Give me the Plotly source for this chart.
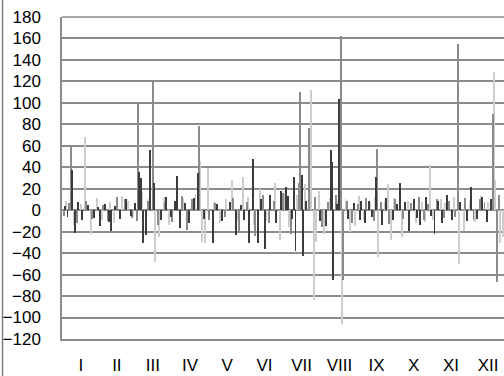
import plotly.graph_objects as go

# Month tick labels (Roman numerals) and month lengths
month_labels = ["I", "II", "III", "IV", "V", "VI", "VII", "VIII", "IX", "X", "XI", "XII"]
month_days = [31, 28, 31, 30, 31, 30, 31, 31, 30, 31, 30, 31]

# Dark grey series: day of year and value
dark_days = [3, 5, 9, 11, 14, 17, 22, 27, 30, 32,
             36, 39, 41, 44, 48, 53, 57, 60, 64, 65,
             67, 69, 73, 76, 82, 86, 90, 93, 95, 97,
             101, 105, 109, 112, 117, 124, 128, 132, 138, 143,
             147, 150, 154, 157, 161, 164, 167, 171, 176, 180,
             184, 186, 189, 191, 192, 197, 198, 201, 212, 217,
             221, 222, 223, 226, 228, 235, 240, 245, 246, 249,
             252, 255, 258, 263, 266, 272, 275, 278, 282, 285,
             289, 292, 294, 299, 303, 306, 309, 312, 316, 320,
             327, 333, 336, 341, 345, 349, 352]
dark_vals = [4, -6, 37, -21, 8, -9, 5, -7, 3, -15,
             6, -11, -19, 4, -8, 10, -5, 7, 36, 30,
             -31, -23, 56, 25, -9, 12, -6, 9, 32, -17,
             7, -12, 11, 35, -8, -31, 6, -10, 8, -23,
             5, -9, -31, 48, -31, 10, -36, 14, -12, 18,
             22, 13, -8, 31, -38, 33, -43, 9, -10, -15,
             56, 45, -65, 6, 104, -8, 7, -9, 9, -12,
             9, -6, 31, -14, 11, -9, 6, 25, 8, -19,
             10, -7, -14, 12, -5, -22, 9, -12, 14, -9,
             8, -10, 22, -8, 12, -11, 10]

# Medium grey series
mid_days = [2, 6, 8, 13, 20, 25, 34, 38, 46, 52,
            58, 62, 63, 71, 75, 79, 85, 91, 99, 103,
            107, 113, 121, 126, 134, 141, 146, 152, 159, 165,
            170, 174, 182, 188, 195, 196, 203, 208, 214, 219,
            225, 229, 231, 234, 238, 243, 250, 256, 259, 262,
            269, 274, 280, 287, 293, 297, 301, 308, 314, 318,
            323, 325, 331, 338, 343, 347, 354, 357, 359]
mid_vals = [-5, 7, 61, -12, 9, -8, 5, -10, 12, 10,
            -7, -10, 101, 9, 121, -14, 8, -11, 13, -18,
            10, 78, -9, 7, -6, 11, -20, 8, -24, 14,
            -12, 9, 16, -22, 25, 110, 77, 12, -16, 8,
            14, 162, -65, 9, -12, 6, 11, -10, 57, 8,
            -13, 10, -8, 7, 12, -9, 6, 10, -7, 9,
            -6, 155, 11, -9, 10, 8, 90, -67, 14]

# Light grey series
light_days = [4, 10, 16, 19, 24, 29, 33, 40, 43, 50,
              55, 59, 66, 72, 77, 80, 84, 88, 94, 100,
              104, 110, 114, 115, 118, 120, 125, 130, 135, 140,
              144, 149, 153, 158, 163, 168, 175, 179, 183, 187,
              193, 200, 205, 207, 209, 211, 215, 220, 227, 230,
              233, 237, 241, 244, 248, 253, 257, 260, 265, 268,
              270, 273, 279, 284, 291, 296, 298, 302, 305, 311,
              315, 322, 326, 330, 335, 339, 344, 350, 355, 356,
              360, 362]
light_vals = [9, -14, 6, 68, -22, 11, -9, 8, -12, 13,
              9, -6, 17, 10, -48, -25, 12, -14, 9, 11,
              -10, 15, 46, -30, -31, 39, 8, -12, 10, 28,
              -9, 31, 12, -14, 20, -10, 25, -28, 18, -16,
              14, 24, 112, -84, -30, 18, -22, 11, 9, -106,
              10, -20, -15, 13, -10, 8, 12, -44, 9, 24,
              -28, 11, -25, 9, -12, 8, -11, 42, -9, 10,
              7, 12, -50, -19, 9, -11, 13, 8, 129, 28,
              -31, -25]

y_ticks = list(range(-120, 181, 20))

# month centres on the day axis
tick_pos = []
start = 0
for n in month_days:
    tick_pos.append(start + n / 2 + 0.5)
    start += n

fig = go.Figure()
for days, vals, col in [(light_days, light_vals, "#cdcdcd"),
                        (mid_days, mid_vals, "#8a8a8a"),
                        (dark_days, dark_vals, "#3c3c3c")]:
    fig.add_trace(go.Bar(x=days, y=vals, width=0.8, marker=dict(color=col, line=dict(width=0)),
                         showlegend=False))

grid_col = "#8c8c8c"
fig.update_layout(
    width=504, height=376,
    margin=dict(l=62, r=0, t=17, b=37),
    paper_bgcolor="white", plot_bgcolor="white",
    barmode="overlay", bargap=0,
    font=dict(family="Liberation Sans, Arial, sans-serif", size=17, color="black"),
    xaxis=dict(range=[0.5, 363], tickmode="array", tickvals=tick_pos, ticktext=month_labels,
               showgrid=False, zeroline=False, showline=True, linecolor=grid_col, linewidth=1.5,
               ticks="", ticklabelstandoff=10),
    yaxis=dict(range=[-120, 180], tickmode="array", tickvals=y_ticks,
               showgrid=True, gridcolor=grid_col, gridwidth=1.5,
               zeroline=True, zerolinecolor=grid_col, zerolinewidth=1.5,
               showline=True, linecolor=grid_col, linewidth=1.5, ticks="",
               ticklabelstandoff=16),
    shapes=[dict(type="line", xref="paper", yref="paper",
                 x0=(2.5 - 62) / 442, x1=(2.5 - 62) / 442,
                 y0=-37 / 322, y1=1 + 17 / 322,
                 line=dict(color="#808080", width=1.5)),
            dict(type="line", xref="paper", yref="paper",
                 x0=0, x1=1, y0=1, y1=1,
                 line=dict(color=grid_col, width=1.5))],
)

fig.write_html("out.html", config={"displayModeBar": False},
               post_script="document.body.style.margin='0';document.body.style.overflow='hidden';")
